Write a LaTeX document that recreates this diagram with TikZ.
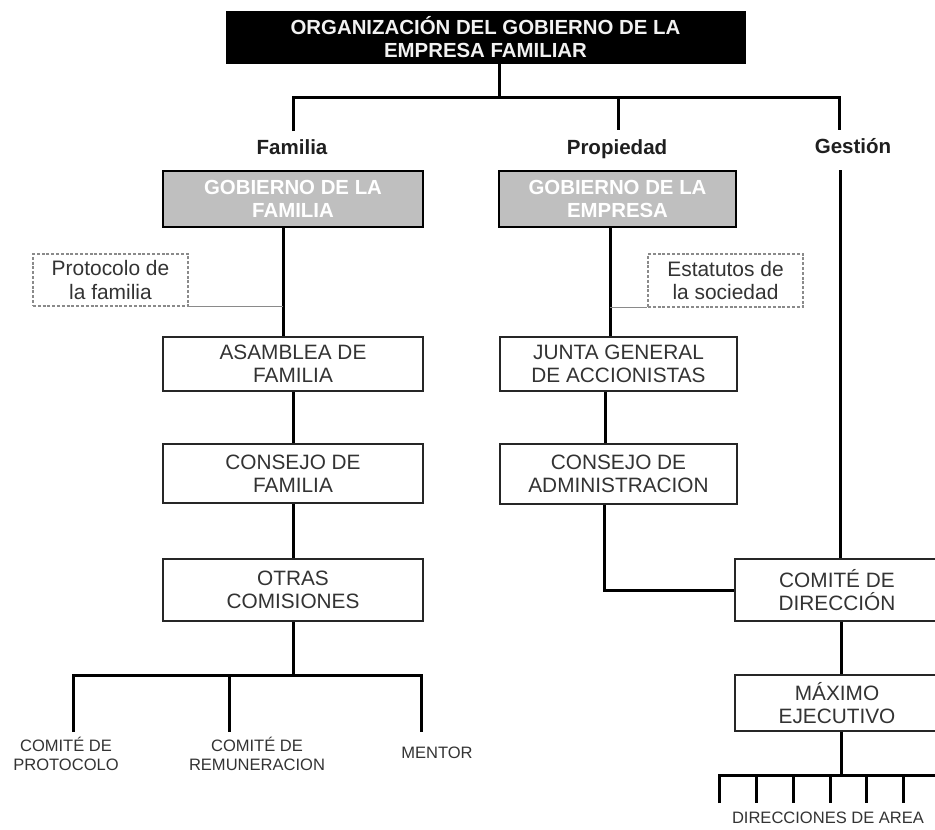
\documentclass[tikz,border=0pt]{standalone}
\usepackage{fontspec}
\setmainfont{Liberation Sans}
\definecolor{txt}{HTML}{333333}
\definecolor{greyfill}{HTML}{BFBFBF}
\definecolor{dotline}{HTML}{8A8A8A}
\begin{document}
\begin{tikzpicture}[x=0.75pt,y=-0.75pt,
  sz/.style 2 args={minimum width=#1*0.75pt, minimum height=#2*0.75pt},
  conn/.style={line width=2.25pt, draw=black},
  thin/.style={line width=0.8pt, draw=dotline},
  wbox/.style={draw=black!85, line width=1.3pt, fill=white, text=txt, align=center, inner sep=0pt,
    font=\fontsize{15.6}{17.3}\selectfont},
  gbox/.style={draw=black, line width=1.8pt, fill=greyfill, text=white, align=center, inner sep=0pt,
    font=\bfseries\fontsize{15.3}{16.8}\selectfont},
  tbox/.style={draw=black, fill=black, text=white!95!black, align=center, inner sep=0pt,
    font=\bfseries\fontsize{15.3}{17.3}\selectfont},
  dbox/.style={draw=dotline, line width=0.8pt, dash pattern=on 2.2pt off 1.4pt, fill=white, text=txt,
    align=center, inner sep=0pt, font=\fontsize{15.7}{17.3}\selectfont},
  head/.style={text=black!88, inner sep=0pt, anchor=base, font=\bfseries\fontsize{15.4}{17}\selectfont},
  small/.style={text=txt, align=center, inner sep=0pt, font=\fontsize{12.4}{13.7}\selectfont}
]
\useasboundingbox (0,0) rectangle (935,829);
\clip (0,0) rectangle (935,829);

% ---------- title ----------
\node[tbox, sz={519}{52}] (title) at (485.5,37) {ORGANIZACIÓN DEL GOBIERNO DE LA\\EMPRESA FAMILIAR};

% ---------- branch labels ----------
\node[head] (familia) at (292,154) {Familia};
\node[head] (propiedad) at (617,154) {Propiedad};
\node[head] (gestion) at (853,153) {Gestión};

\coordinate (jt) at (499,97);
\coordinate (jf) at (293,97);
\coordinate (jp) at (618,97);
\coordinate (jg) at (839,97);
\coordinate (ef) at (293,131);
\coordinate (ep) at (618,130);
\coordinate (eg) at (839,130);

\draw[conn] (ef) -- (jf) -- (jg) -- (eg);
\draw[conn] (jp) -- (ep);
\draw[conn] (499,0 |- title.south) -- (jt);

% ---------- Familia column ----------
\node[gbox, sz={260}{56}] (gfam) at (293,199) {GOBIERNO DE LA\\FAMILIA};
\node[dbox, sz={155}{52}] (proto) at (110.5,280) {Protocolo de\\la familia};
\node[wbox, sz={260}{54}] (asam) at (293,364) {ASAMBLEA DE\\FAMILIA};
\node[wbox, sz={260}{59}] (cfam) at (293,473.5) {CONSEJO DE\\FAMILIA};
\node[wbox, sz={260}{62}] (otras) at (293,590) {OTRAS\\COMISIONES};

\draw[conn] (283,0 |- gfam.south) -- (283,0 |- asam.north);
\draw[thin] (proto.south east) -- (283,0 |- proto.south);
\draw[conn] (293,0 |- asam.south) -- (cfam.north);
\draw[conn] (cfam.south) -- (otras.north);

\coordinate (jo) at (293,675);
\coordinate (b1) at (73,675);
\coordinate (b2) at (229,675);
\coordinate (b3) at (421,675);
\coordinate (d1) at (73,732);
\coordinate (d2) at (229,732);
\coordinate (d3) at (421,732);
\draw[conn] (d1) -- (b1) -- (b3) -- (d3);
\draw[conn] (b2) -- (d2);
\draw[conn] (otras.south) -- (jo);

\node[small] (cprot) at (66,754) {COMITÉ DE\\PROTOCOLO};
\node[small] (crem) at (257,754) {COMITÉ DE\\REMUNERACION};
\node[small] (mentor) at (437,753) {MENTOR};

% ---------- Propiedad column ----------
\node[gbox, sz={237}{56}] (gemp) at (617.5,199) {GOBIERNO DE LA\\EMPRESA};
\node[dbox, sz={155}{53}] (estat) at (725.5,280.5) {Estatutos de\\la sociedad};
\node[wbox, sz={237}{54}] (junta) at (618.5,364) {JUNTA GENERAL\\DE ACCIONISTAS};
\node[wbox, sz={237}{60}] (cadm) at (618.5,474) {CONSEJO DE\\ADMINISTRACION};

\draw[conn] (610,0 |- gemp.south) -- (610,0 |- junta.north);
\draw[thin] (610,0 |- estat.south) -- (estat.south west);
\draw[conn] (605,0 |- junta.south) -- (605,0 |- cadm.north);

% ---------- Gestión column ----------
\node[wbox, sz={204}{62}] (cdir) at (837,590) {COMITÉ DE\\DIRECCIÓN};
\node[wbox, sz={204}{56}] (maxe) at (837,703) {MÁXIMO\\EJECUTIVO};

\coordinate (gs) at (840,170);
\draw[conn] (gs) -- (840,0 |- cdir.north);
\draw[conn] (604,0 |- cadm.south) -- (604,0 |- cdir.west) -- (cdir.west);
\draw[conn] (841,0 |- cdir.south) -- (841,0 |- maxe.north);

\coordinate (jm) at (841,775);
\coordinate (a0) at (719,775);
\coordinate (a9) at (950,775);
\draw[conn] (841,0 |- maxe.south) -- (jm);
\draw[conn] (719,803) -- (a0) -- (a9);
\foreach \x in {756,793,830,866,903} {
  \draw[conn] (\x,775) -- (\x,803);
}
\node[small] (dirs) at (828,818) {DIRECCIONES DE AREA};

\end{tikzpicture}
\end{document}
